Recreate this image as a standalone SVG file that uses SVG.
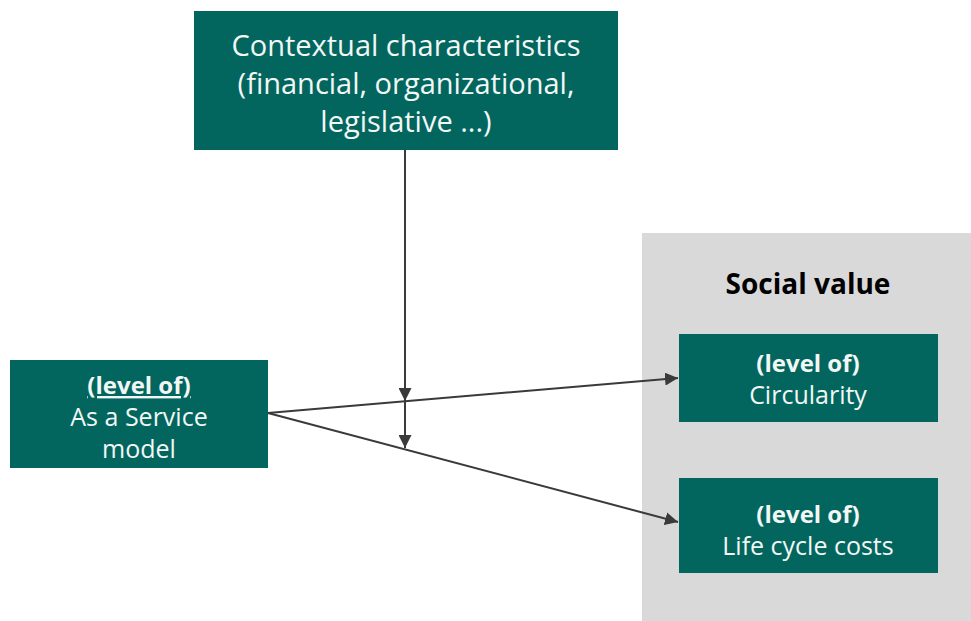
<svg xmlns="http://www.w3.org/2000/svg" width="971" height="621" viewBox="0 0 971 621">
<defs>
<style>
.box{fill:#02665E}
.t{font-family:"Open Sans","Noto Sans",sans-serif;fill:#F2F7F6;text-anchor:middle}
.b{font-weight:bold}
.c{stroke:#3A3A3A;stroke-width:2;fill:none;marker-end:url(#ah)}
</style>
<marker id="ah" viewBox="0 0 10 10" refX="10" refY="5" markerWidth="6.5" markerHeight="6.5" orient="auto" markerUnits="strokeWidth">
<path d="M0,0 L10,5 L0,10 z" fill="#3A3A3A"/>
</marker>
</defs>
<rect width="971" height="621" fill="#fff"/>
<g id="social-value">
<rect x="642" y="233" width="329" height="388" fill="#D9D9D9"/>
<text x="808" y="294" font-family="Open Sans, Noto Sans, sans-serif" font-weight="bold" font-size="28" fill="#000" text-anchor="middle">Social value</text>
</g>
<g id="context">
<rect class="box" x="194" y="11" width="424" height="139"/>
<text class="t" font-size="29"><tspan x="406" y="56">Contextual characteristics</tspan><tspan x="406" y="94">(financial, organizational,</tspan><tspan x="406" y="132">legislative ...)</tspan></text>
</g>
<g id="aas">
<rect class="box" x="10" y="360" width="258" height="108"/>
<text class="t b" font-size="24" x="139" y="394" text-decoration="underline">(level of)</text>
<text class="t" font-size="25"><tspan x="139" y="426">As a Service</tspan><tspan x="139" y="458">model</tspan></text>
</g>
<g id="circularity">
<rect class="box" x="679" y="334" width="259" height="88"/>
<text class="t b" font-size="24" x="808" y="372">(level of)</text>
<text class="t" font-size="25" x="808" y="404">Circularity</text>
</g>
<g id="lcc">
<rect class="box" x="679" y="478" width="259" height="95"/>
<text class="t b" font-size="24" x="808" y="523">(level of)</text>
<text class="t" font-size="25" x="808" y="555">Life cycle costs</text>
</g>
<g id="connectors">
<line class="c" x1="268" y1="413" x2="678" y2="378"/>
<line class="c" x1="268" y1="413" x2="678" y2="522"/>
<line class="c" x1="405" y1="150" x2="405" y2="401"/>
<line class="c" x1="405" y1="401" x2="405" y2="448"/>
</g>
</svg>
